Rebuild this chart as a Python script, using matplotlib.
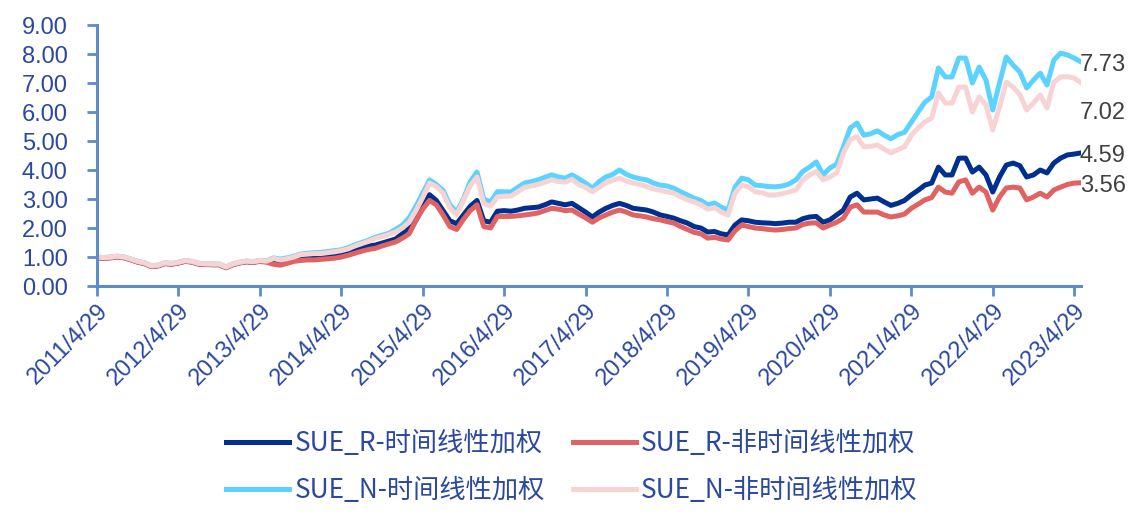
import matplotlib
matplotlib.use("Agg")
import matplotlib.pyplot as plt

# ---------------- data (monthly, 2011/4 .. 2023/6) ----------------
sue_r_time = [
    0.98, 0.96, 0.98, 1.01, 0.98, 0.91, 0.83, 0.78, 0.68, 0.70,
    0.78, 0.76, 0.80, 0.86, 0.83, 0.76, 0.75, 0.74, 0.74, 0.64,
    0.74, 0.80, 0.84, 0.82, 0.86, 0.84, 0.90, 0.85, 0.88, 0.92,
    0.98, 1.00, 1.02, 1.02, 1.05, 1.08, 1.12, 1.18, 1.25, 1.33,
    1.38, 1.41, 1.48, 1.55, 1.62, 1.80, 2.05, 2.45, 2.85, 3.15,
    2.95, 2.60, 2.25, 2.15, 2.45, 2.75, 2.95, 2.25, 2.20, 2.58,
    2.60, 2.58, 2.62, 2.68, 2.70, 2.72, 2.80, 2.90, 2.85, 2.80,
    2.85, 2.70, 2.55, 2.38, 2.55, 2.68, 2.78, 2.85, 2.78, 2.68,
    2.65, 2.62, 2.55, 2.45, 2.40, 2.34, 2.25, 2.17, 2.05, 2.00,
    1.86, 1.88, 1.80, 1.76, 2.10, 2.28, 2.25, 2.20, 2.18, 2.17,
    2.15, 2.17, 2.20, 2.20, 2.32, 2.38, 2.40, 2.20, 2.28, 2.45,
    2.62, 3.07, 3.20, 2.97, 3.00, 3.03, 2.90, 2.78, 2.85, 2.95,
    3.14, 3.30, 3.48, 3.55, 4.10, 3.83, 3.83, 4.41, 4.41, 3.93,
    4.10, 3.83, 3.24, 3.76, 4.17, 4.24, 4.15, 3.76, 3.83, 4.00,
    3.90, 4.24, 4.41, 4.52, 4.55, 4.59,
]
sue_r_nontime = [
    0.97, 0.95, 0.97, 1.00, 0.97, 0.90, 0.82, 0.77, 0.67, 0.69,
    0.77, 0.75, 0.79, 0.85, 0.82, 0.75, 0.74, 0.73, 0.73, 0.63,
    0.73, 0.79, 0.83, 0.81, 0.85, 0.82, 0.75, 0.72, 0.78, 0.85,
    0.88, 0.90, 0.90, 0.92, 0.94, 0.96, 1.00, 1.06, 1.13, 1.20,
    1.26, 1.30, 1.38, 1.45, 1.52, 1.65, 1.80, 2.25, 2.65, 2.95,
    2.80, 2.45, 2.05, 1.95, 2.30, 2.60, 2.80, 2.05, 2.00, 2.40,
    2.40, 2.40, 2.42, 2.45, 2.48, 2.52, 2.60, 2.68, 2.65, 2.60,
    2.62, 2.48, 2.35, 2.20, 2.35, 2.45, 2.55, 2.62, 2.55, 2.45,
    2.42, 2.38, 2.32, 2.28, 2.22, 2.17, 2.05, 1.95, 1.85, 1.80,
    1.65, 1.68, 1.62, 1.59, 1.90, 2.10, 2.05, 2.00, 1.98, 1.95,
    1.93, 1.95, 1.98, 2.00, 2.12, 2.17, 2.18, 2.00, 2.10, 2.20,
    2.34, 2.72, 2.80, 2.55, 2.55, 2.55, 2.45, 2.38, 2.42, 2.48,
    2.68, 2.82, 2.97, 3.05, 3.41, 3.24, 3.20, 3.59, 3.66, 3.20,
    3.41, 3.24, 2.62, 3.07, 3.38, 3.41, 3.38, 2.97, 3.07, 3.20,
    3.07, 3.31, 3.41, 3.50, 3.55, 3.56,
]
sue_n_time = [
    1.00, 0.98, 1.00, 1.03, 1.00, 0.93, 0.85, 0.80, 0.70, 0.72,
    0.80, 0.78, 0.82, 0.88, 0.85, 0.78, 0.77, 0.76, 0.76, 0.66,
    0.76, 0.82, 0.86, 0.84, 0.88, 0.87, 0.97, 0.93, 0.97, 1.03,
    1.10, 1.13, 1.15, 1.16, 1.19, 1.22, 1.25, 1.32, 1.42, 1.50,
    1.58, 1.68, 1.75, 1.82, 1.95, 2.10, 2.35, 2.75, 3.20, 3.66,
    3.50, 3.30, 2.80, 2.55, 3.00, 3.60, 3.93, 3.00, 2.90, 3.25,
    3.25, 3.24, 3.40, 3.55, 3.60, 3.66, 3.75, 3.83, 3.76, 3.72,
    3.83, 3.70, 3.55, 3.37, 3.60, 3.76, 3.85, 4.00, 3.85, 3.76,
    3.70, 3.66, 3.55, 3.48, 3.45, 3.37, 3.25, 3.14, 3.03, 2.95,
    2.80, 2.86, 2.72, 2.62, 3.40, 3.72, 3.66, 3.48, 3.46, 3.43,
    3.42, 3.45, 3.52, 3.66, 3.95, 4.10, 4.28, 3.83, 4.07, 4.20,
    4.80, 5.45, 5.62, 5.20, 5.25, 5.35, 5.20, 5.08, 5.22, 5.30,
    5.65, 6.00, 6.34, 6.52, 7.52, 7.21, 7.21, 7.86, 7.86, 7.00,
    7.55, 7.10, 6.07, 7.00, 7.90, 7.62, 7.38, 6.83, 7.10, 7.34,
    6.93, 7.79, 8.03, 7.97, 7.86, 7.73,
]
sue_n_nontime = [
    1.00, 0.98, 1.00, 1.03, 1.00, 0.93, 0.85, 0.80, 0.70, 0.72,
    0.80, 0.78, 0.82, 0.88, 0.85, 0.78, 0.77, 0.76, 0.76, 0.66,
    0.76, 0.82, 0.86, 0.84, 0.88, 0.86, 0.95, 0.90, 0.94, 1.00,
    1.08, 1.10, 1.12, 1.12, 1.15, 1.18, 1.22, 1.28, 1.38, 1.46,
    1.54, 1.64, 1.70, 1.78, 1.86, 2.00, 2.20, 2.60, 3.05, 3.55,
    3.43, 3.20, 2.70, 2.45, 2.95, 3.45, 3.76, 2.85, 2.75, 3.07,
    3.10, 3.10, 3.25, 3.40, 3.45, 3.50, 3.58, 3.66, 3.60, 3.58,
    3.68, 3.50, 3.40, 3.25, 3.40, 3.55, 3.65, 3.72, 3.62, 3.55,
    3.50, 3.43, 3.35, 3.30, 3.25, 3.20, 3.08, 2.97, 2.90, 2.80,
    2.65, 2.70, 2.55, 2.45, 3.20, 3.48, 3.42, 3.25, 3.22, 3.14,
    3.14, 3.18, 3.25, 3.31, 3.65, 3.83, 3.95, 3.66, 3.76, 3.90,
    4.59, 5.05, 5.15, 4.80, 4.82, 4.86, 4.72, 4.59, 4.70, 4.80,
    5.20, 5.45, 5.66, 5.79, 6.66, 6.31, 6.31, 6.86, 6.86, 6.00,
    6.52, 6.24, 5.38, 6.17, 7.03, 6.86, 6.60, 6.07, 6.31, 6.59,
    6.14, 7.03, 7.21, 7.22, 7.17, 7.02,
]
series_names = ["SUE_R-时间线性加权", "SUE_R-非时间线性加权",
                "SUE_N-时间线性加权", "SUE_N-非时间线性加权"]
tick_labels = ["2011/4/29", "2012/4/29", "2013/4/29", "2014/4/29", "2015/4/29",
               "2016/4/29", "2017/4/29", "2018/4/29", "2019/4/29", "2020/4/29",
               "2021/4/29", "2022/4/29", "2023/4/29"]
end_labels = ["7.73", "7.02", "4.59", "3.56"]
y_ticks = [0, 1, 2, 3, 4, 5, 6, 7, 8, 9]

# ---------------- style ----------------
colors = ["#00308F", "#E06262", "#5CD3FF", "#F8D3D3"]
axis_color = "#5B8CCB"
tick_color = "#2A48A0"

plt.rcParams['font.family'] = ['Liberation Sans', 'DejaVu Sans']

fig = plt.figure(figsize=(11.37, 5.19), dpi=100)
ax = fig.add_axes([0.0853, 0.4489, 0.8654, 0.5029])

all_series = [sue_r_time, sue_r_nontime, sue_n_time, sue_n_nontime]
lines = []
for vals, c, name in zip(all_series, colors, series_names):
    x = list(range(len(vals)))
    ln, = ax.plot(x, vals, color=c, lw=3.6, label=name, solid_joinstyle='round')
    lines.append(ln)

n = len(sue_r_time)
ax.set_xlim(0, n - 1)
ax.set_ylim(0, 9)
ax.set_yticks(y_ticks)
ax.set_yticklabels([f"{v:.2f}" for v in y_ticks])
ax.set_xticks(list(range(0, 12 * len(tick_labels), 12)))
ax.set_xticklabels(tick_labels, rotation=45, ha='right', va='top',
                   rotation_mode='anchor')

for s in ['top', 'right']:
    ax.spines[s].set_visible(False)
for s in ['left', 'bottom']:
    ax.spines[s].set_color(axis_color)
    ax.spines[s].set_linewidth(2.2)
ax.tick_params(axis='y', colors=axis_color, length=7, width=2, pad=14,
               labelsize=17, labelcolor=tick_color)
ax.tick_params(axis='x', colors=axis_color, length=7, width=2, pad=3,
               labelsize=17, labelcolor=tick_color)

# end value labels
label_pos = [7.62, 5.95, 4.48, 3.45]
for txt, yv in zip(end_labels, label_pos):
    ax.text(n - 1 - 0.2, yv, txt, color="#404040", fontsize=17,
            ha='left', va='center', clip_on=False)

# legend: row 1 = R series, row 2 = N series (column-wise fill)
order = [0, 2, 1, 3]
fig.legend(handles=[lines[k] for k in order],
           labels=[series_names[k] for k in order], ncol=2, loc='center',
           bbox_to_anchor=(0.503, 0.10), frameon=False,
           prop={'family': ['Noto Sans CJK SC', 'DejaVu Sans'], 'size': 18.9},
           labelcolor=tick_color, handlelength=2.4, handletextpad=0.2,
           columnspacing=1.05, labelspacing=0.75)

fig.savefig("out.png", dpi=100)
